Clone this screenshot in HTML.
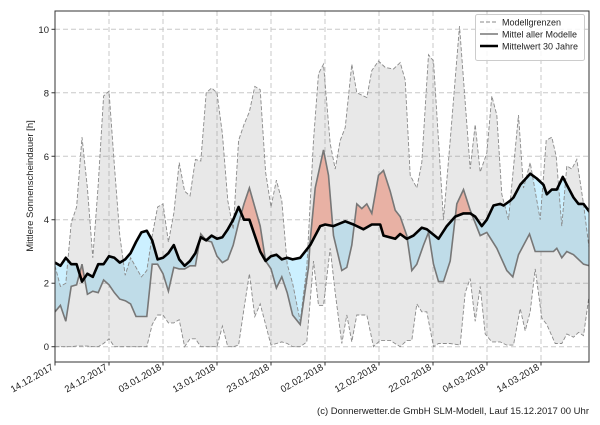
<!DOCTYPE html>
<html><head><meta charset="utf-8"><style>
body{margin:0;background:#fff;width:600px;height:420px;overflow:hidden}
text{font-family:"Liberation Sans","DejaVu Sans",sans-serif;fill:#222}
</style></head><body>
<svg id="s" width="600" height="420" xmlns="http://www.w3.org/2000/svg"></svg>
<script>
const X0=55,PX=5.4,Y0=346.7,PY=31.74;
const fx=d=>X0+d*PX, fy=v=>Y0-v*PY;
function z(a){const r=[];for(let i=0;i<a.length;i+=2)r.push([45.4+a[i]/16.2,a[i+1]]);return r;}
function seq(a){return a.map((v,i)=>[i,v]);}
const clim=seq([2.65,2.55,2.8,2.6,2.6,2.05,2.3,2.2,2.6,2.6,2.85,2.8,2.65,2.75,2.95,3.3,3.6,3.65,3.35,2.75,2.8,2.95,3.2,2.75,2.55,2.7,2.95,3.45,3.35,3.5,3.4,3.45,3.7,4.0,4.4,4.0,4.0,3.5,3.0,2.7,2.85,2.9,2.75,2.8,2.75]).concat(z([0,2.8,30,3.2,60,3.8,75,3.85,100,3.8,135,3.95,160,3.85,190,3.7,215,3.85,240,3.85,250,3.5,285,3.4,300,3.55,320,3.4,340,3.5,365,3.75,380,3.7,415,3.4,440,3.8,465,4.1,490,4.2,510,4.2,525,4.1,545,3.8,560,4.0,580,4.45,600,4.5,610,4.45,630,4.6,640,4.7,660,5.1,690,5.45,710,5.3,730,5.1,740,4.8,755,4.95,770,4.95,788,5.35,800,5.1,820,4.7,835,4.5,850,4.5,868,4.25]));
const mean=seq([1.1,1.3,0.8,1.9,1.95,2.6,1.65,1.75,1.7,2.1,1.95,1.7,1.5,1.45,1.35,0.95,0.95,0.95,2.6,2.6,2.3,1.75,2.5,2.45,2.45,2.55,2.55,3.55,3.35,3.3,2.85,2.65,2.75,3.2,3.9,4.5,5.0,4.4,3.8,2.7,2.45,1.85,2.2,1.7,1.0]).concat(z([0,0.7,25,2.5,30,3.35,45,5.0,70,6.2,85,5.4,100,3.5,125,2.4,140,2.5,155,3.2,170,4.5,185,4.35,200,4.5,215,4.2,235,5.4,250,5.55,270,4.9,285,4.3,300,4.1,320,3.5,335,2.4,350,2.6,370,3.2,385,3.6,400,2.6,415,2.05,430,2.05,450,2.7,470,4.5,490,4.95,510,4.3,540,3.5,560,3.6,590,3.1,620,2.4,638,2.2,655,2.9,688,3.55,705,3.0,740,3.0,760,3.0,770,3.1,785,2.8,800,3.0,820,2.9,850,2.6,868,2.55]));
const up=seq([2.55,1.9,2.0,3.9,4.4,6.6,5.0,2.8,5.1,7.9,8.05,5.7,3.5,2.25,2.8,2.5,2.2,2.4,3.5,4.4,4.5,3.3,4.2,5.8,4.9,4.75,5.9,5.85,8.0,8.15,8.0,6.7,4.6,3.7,6.5,7.0,7.4,8.2,8.1,5.5,4.4,5.25,4.6,2.6,2.0]).concat(z([0,0.8,20,2.5,40,6.5,55,8.6,70,8.9,90,6.4,105,5.6,120,6.5,135,6.9,155,8.9,170,8.0,200,7.85,215,8.7,235,9.0,255,8.8,280,8.75,300,8.95,315,8.4,330,5.4,350,5.0,365,5.8,385,9.2,400,9.0,430,4.0,450,6.5,478,10.1,495,7.7,510,5.6,525,7.0,540,5.5,560,6.1,575,7.9,590,7.3,605,4.8,625,4.0,655,7.3,670,5.0,690,5.8,720,4.0,738,6.5,755,6.6,768,6.0,785,3.8,800,5.7,815,5.6,830,5.9,850,4.5,868,3.0]));
const lo=seq([0,0,0,0,0.02,0.02,0.02,0,0,0.1,0.25,0,0,0,0,0,0,0,0.7,1.0,1.0,0.75,0.75,0.85,0,0.25,0.25,0,0,0,0,0.65,0,0,0.05,1.2,2.3,0.95,1.35,0.7,0.05,0.1,0.15,0.1,0]).concat(z([0,0,20,0.15,40,2.7,55,1.3,70,1.3,90,3.1,105,1.7,125,0.1,140,1.0,155,0.15,170,1.0,200,1.0,220,0,240,0.2,270,0.2,300,0,320,0.2,335,0.2,350,1.35,365,1.1,380,1.1,400,0,415,0.1,450,0.1,480,0.05,495,1.7,510,2.15,525,0.8,540,1.9,555,0.4,575,0.15,600,0.15,620,0.05,640,0.05,660,1.2,675,0.5,690,1.1,705,2.45,725,0.9,740,0.7,765,0.1,785,0.1,800,0.4,820,0.3,835,0.45,850,0.35,868,1.7]));
function interp(s,d){for(let i=1;i<s.length;i++){if(s[i][0]>=d){const a=s[i-1],b=s[i];const t=(d-a[0])/((b[0]-a[0])||1);return a[1]+t*(b[1]-a[1]);}}return s[s.length-1][1];}
const D=[];for(let d=0;d<=99.0001;d+=0.1)D.push(d);
const pl=s=>s.map(p=>fx(p[0]).toFixed(1)+","+fy(p[1]).toFixed(1)).join(" ");
function band(fTop,fBot){const t=D.map(d=>[d,fTop(d)]),b=D.map(d=>[d,fBot(d)]).reverse();return pl(t)+" "+pl(b);}
let h='';
h+='<defs><clipPath id="c"><rect x="55" y="11" width="534" height="351"/></clipPath></defs>';
for(let v=0;v<=10;v+=2){const y=fy(v);h+=`<line x1="55" x2="589" y1="${y}" y2="${y}" stroke="#c8c8c8" stroke-dasharray="5,3" stroke-width="1"/>`;h+=`<text x="49" y="${y+3.5}" font-size="9.5" text-anchor="end">${v}</text>`;h+=`<line x1="51.5" x2="55" y1="${y}" y2="${y}" stroke="#333"/>`;}
const labs=["14.12.2017","24.12.2017","03.01.2018","13.01.2018","23.01.2018","02.02.2018","12.02.2018","22.02.2018","04.03.2018","14.03.2018"];
labs.forEach((l,i)=>{const x=fx(i*10);if(i>0)h+=`<line x1="${x}" x2="${x}" y1="11" y2="362" stroke="#c8c8c8" stroke-dasharray="5,3"/>`;h+=`<line x1="${x}" x2="${x}" y1="362" y2="365.5" stroke="#333"/>`;h+=`<text transform="translate(${x-1},369) rotate(-30)" font-size="9.5" text-anchor="end">${l}</text>`;});
h+='<g clip-path="url(#c)">';
h+=`<polygon points="${band(d=>Math.max(interp(mean,d),interp(clim,d)),d=>interp(clim,d))}" fill="#ffbbab"/>`;
h+=`<polygon points="${band(d=>interp(clim,d),d=>Math.min(interp(mean,d),interp(clim,d)))}" fill="#ccf0ff"/>`;
h+=`<polygon points="${band(d=>interp(up,d),d=>interp(lo,d))}" fill="rgba(140,140,140,0.2)"/>`;
h+=`<polyline points="${pl(up)}" fill="none" stroke="#8a8a8a" stroke-width="0.9" stroke-dasharray="4,2"/>`;
h+=`<polyline points="${pl(lo)}" fill="none" stroke="#8a8a8a" stroke-width="0.9" stroke-dasharray="4,2"/>`;
h+=`<polyline points="${pl(mean)}" fill="none" stroke="#777" stroke-width="1.6"/>`;
h+=`<polyline points="${pl(clim)}" fill="none" stroke="#000" stroke-width="2.6" stroke-linejoin="round"/>`;
h+='</g>';
h+='<rect x="55" y="11" width="534" height="351" fill="none" stroke="#333" stroke-width="1"/>';
h+='<text transform="translate(33,186) rotate(-90)" font-size="9.5" text-anchor="middle">Mittlere Sonnenscheindauer [h]</text>';
h+='<rect x="475.5" y="14.5" width="109" height="46" rx="2" fill="#fff" fill-opacity="0.85" stroke="#ccc"/>';
h+='<line x1="480" x2="498" y1="22" y2="22" stroke="#8a8a8a" stroke-dasharray="4,2"/><text x="502" y="25.5" font-size="9">Modellgrenzen</text>';
h+='<line x1="480" x2="498" y1="34" y2="34" stroke="#777" stroke-width="1.6"/><text x="502" y="37.5" font-size="9">Mittel aller Modelle</text>';
h+='<line x1="480" x2="498" y1="46" y2="46" stroke="#000" stroke-width="2.6"/><text x="502" y="49.5" font-size="9" >Mittelwert 30 Jahre</text>';
h+='<text x="589" y="414" font-size="9.5" text-anchor="end">(c) Donnerwetter.de GmbH SLM-Modell, Lauf 15.12.2017 00 Uhr</text>';
document.getElementById('s').innerHTML=h;
</script>
</body></html>
